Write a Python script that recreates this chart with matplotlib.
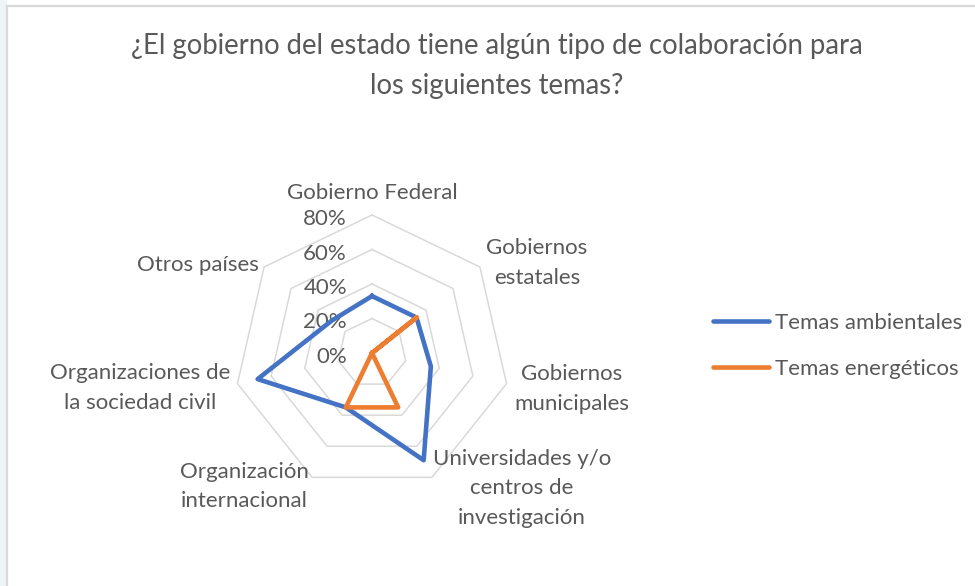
import numpy as np
import matplotlib
matplotlib.use('Agg')
import matplotlib.pyplot as plt
from matplotlib.lines import Line2D
from matplotlib.patches import Rectangle
from matplotlib.transforms import offset_copy

plt.rcParams['font.family'] = ['Lato', 'DejaVu Sans']

# data
categories = ['Gobierno Federal', 'Gobiernos\nestatales', 'Gobiernos\nmunicipales',
              'Universidades y/o\ncentros de\ninvestigación', 'Organización\ninternacional',
              'Organizaciones de\nla sociedad civil', 'Otros países']
ambientales = [33, 33, 35, 69, 35, 68, 30]
energeticos = [0, 33, 0, 35, 35, 0, 0]
series_names = ['Temas ambientales', 'Temas energéticos']
rings = [0, 20, 40, 60, 80]
ring_labels = ['0%', '20%', '40%', '60%', '80%']

# label offsets from the outer vertex (pixels)
label_off = [(0, 22), (57, 4), (65, -5), (90, -11), (-68, -9), (-97, -4), (-66, 2)]

txt = '#595959'
grid_c = '#d9d9d9'
blue = '#4472C4'
orange = '#ED7D31'
fs = 16

fig = plt.figure(figsize=(9.75, 5.86), dpi=100)

# background strip + chart border
fig.patches.append(Rectangle((0, 0), 7 / 975, 1, transform=fig.transFigure,
                             facecolor='#eef6f5', edgecolor='none', zorder=0))
fig.add_artist(Line2D([7 / 975, 7 / 975], [0, 1 - 5.5 / 586], transform=fig.transFigure,
                      color=grid_c, lw=1.6))
fig.add_artist(Line2D([7 / 975, 1], [1 - 5.5 / 586, 1 - 5.5 / 586], transform=fig.transFigure,
                      color=grid_c, lw=1.6))

ax = fig.add_axes([234 / 975, 1 - 491 / 586, 276 / 975, 276 / 586], projection='polar')
ax.set_theta_offset(np.pi / 2)
ax.set_theta_direction(-1)
ax.set_ylim(0, 80)
ax.axis('off')

n = len(categories)
ang = np.linspace(0, 2 * np.pi, n, endpoint=False)
ang_c = np.append(ang, ang[0])

for r in rings[1:]:
    ax.plot(ang_c, [r] * (n + 1), color=grid_c, lw=1.1, clip_on=False, zorder=1)

tr = offset_copy(ax.transData, fig=fig, x=-25, y=-4, units='dots')
for r, s in zip(rings, ring_labels):
    ax.text(0, r, s, transform=tr, ha='right', va='center', fontsize=fs, color=txt)

ax.plot(ang_c, ambientales + ambientales[:1], color=blue, lw=3.3,
        solid_joinstyle='round', clip_on=False, zorder=3)
ax.plot(ang_c, energeticos + energeticos[:1], color=orange, lw=3.3,
        solid_joinstyle='round', clip_on=False, zorder=4)

for a, lab, (dx, dy) in zip(ang, categories, label_off):
    ax.annotate(lab, xy=(a, 80), xytext=(dx, dy), textcoords='offset pixels',
                ha='center', va='center', fontsize=fs, color=txt,
                linespacing=1.6, annotation_clip=False)

fig.text(497 / 975, 1 - 66 / 586,
         '¿El gobierno del estado tiene algún tipo de colaboración para\nlos siguientes temas?',
         ha='center', va='center', fontsize=19.8, color=txt, linespacing=1.7)

handles = [Line2D([], [], color=blue, lw=3.3, solid_capstyle='round'),
           Line2D([], [], color=orange, lw=3.3, solid_capstyle='round')]
fig.legend(handles, series_names, loc='center left',
           bbox_to_anchor=(713 / 975, 1 - 346 / 586), frameon=False, fontsize=fs,
           handlelength=2.5, handletextpad=0.27, labelspacing=1.15, borderpad=0,
           borderaxespad=0, labelcolor=txt)

plt.savefig('out.png', dpi=100)
plt.close()
